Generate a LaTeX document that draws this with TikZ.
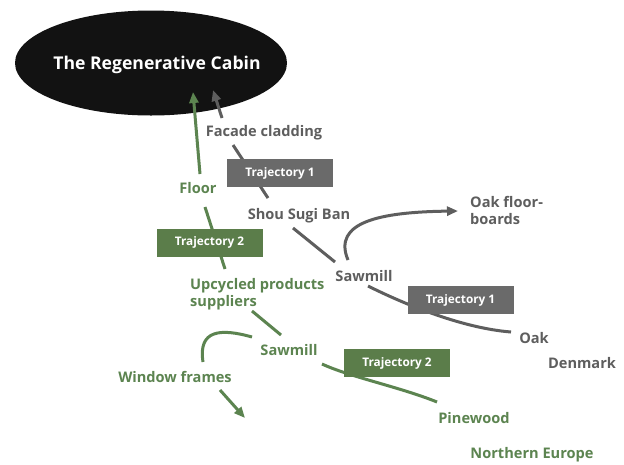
\documentclass[tikz,border=0pt]{standalone}
\usepackage{fontspec}
\setmainfont{Open Sans}
\usetikzlibrary{arrows.meta,shapes.geometric}
\definecolor{cgray}{HTML}{5E5E5E}
\definecolor{cgraybox}{HTML}{6A6A6A}
\definecolor{cgreen}{HTML}{5C8450}
\definecolor{cgreenbox}{HTML}{5B7D4A}
\definecolor{cblack}{HTML}{121212}
\begin{document}
\begin{tikzpicture}[x=1pt,y=-1pt,
  graylbl/.style={text=cgray,font=\fontsize{14.6}{17}\selectfont\bfseries,inner sep=0pt},
  greenlbl/.style={text=cgreen,font=\fontsize{14.6}{17}\selectfont\bfseries,inner sep=0pt},
  graybox/.style={fill=cgraybox,text=white,minimum width=106pt,minimum height=28pt,inner sep=0pt,font=\fontsize{11.8}{13}\selectfont\bfseries},
  greenbox/.style={fill=cgreenbox,text=white,minimum width=106pt,minimum height=28pt,inner sep=0pt,font=\fontsize{11.8}{13}\selectfont\bfseries},
  grayline/.style={draw=cgray,line width=3pt},
  greenline/.style={draw=cgreen,line width=3pt},
  tip/.style={-{Triangle[length=11pt,width=9pt]}}
]
\useasboundingbox (0,0) rectangle (624,464);
\fill[white] (0,0) rectangle (624,464);

% cabin
\node[ellipse,fill=cblack,minimum width=272pt,minimum height=105pt,inner sep=0pt] (cabin) at (151,63) {};
\node[text=white,font=\fontsize{17.6}{20}\selectfont\bfseries] (cabintxt) at (157,65) {The Regenerative Cabin};

% labels gray
\node[graylbl] (facade) at (264,133) {Facade cladding};
\node[graylbl] (shou) at (299,216) {Shou Sugi Ban};
\node[graylbl] (saw1) at (364,276) {Sawmill};
\node[graylbl,align=left,anchor=west] (oakfloor) at (470,210) {Oak floor-\\boards};
\node[graylbl] (oak) at (534,338) {Oak};
\node[graylbl] (denmark) at (582,363) {Denmark};

% labels green
\node[greenlbl] (floor) at (198,188) {Floor};
\node[greenlbl,align=left,anchor=west] (upcycled) at (190,294) {Upcycled products\\suppliers};
\node[greenlbl] (saw2) at (289,350) {Sawmill};
\node[greenlbl] (window) at (175,377) {Window frames};
\node[greenlbl] (pine) at (474,418) {Pinewood};
\node[greenlbl] (north) at (532,455) {Northern Europe};

% connector end coordinates
\coordinate (ga1) at (222,118);
\coordinate (ga2) at (213,90);
\coordinate (gb1) at (233,145);
\coordinate (gb2) at (268,198);
\coordinate (gc1) at (293,228);
\coordinate (gc2) at (335,262);
\coordinate (gd1) at (348,260);
\coordinate (gd2) at (458,211);
\coordinate (ge1) at (368,286);
\coordinate (ge2) at (511,332);

\coordinate (na1) at (200,174);
\coordinate (na2) at (193,92);
\coordinate (nb1) at (205,207);
\coordinate (nb2) at (225,269);
\coordinate (nc1) at (252,311);
\coordinate (nc2) at (281,335);
\coordinate (nd1) at (252,337);
\coordinate (nd2) at (203,362);
\coordinate (ne1) at (220,390);
\coordinate (ne2) at (245,418);
\coordinate (nf1) at (322,364);
\coordinate (nf2) at (437,402);

% gray connectors
\draw[grayline,tip] (ga1) -- (ga2);
\draw[grayline] (gb1) -- (gb2);
\draw[grayline] (gc1) -- (gc2);
\draw[grayline,tip] (gd1) .. controls (332,222) and (380,212) .. (gd2);
\draw[grayline] (ge1) .. controls (400,302) and (460,328) .. (ge2);

% green connectors
\draw[greenline,tip] (na1) -- (na2);
\draw[greenline] (nb1) -- (nb2);
\draw[greenline] (nc1) -- (nc2);
\draw[greenline] (nd1) .. controls (220,328) and (198,330) .. (nd2);
\draw[greenline,tip] (ne1) -- (ne2);
\draw[greenline] (nf1) .. controls (350,377) and (400,387) .. (nf2);

% boxes
\node[graybox] (t1a) at (280,173) {Trajectory 1};
\node[greenbox] (t2a) at (209.5,242.5) {Trajectory 2};
\node[graybox] (t1b) at (460.5,300) {Trajectory 1};
\node[greenbox] (t2b) at (397,363) {Trajectory 2};
\end{tikzpicture}
\end{document}
